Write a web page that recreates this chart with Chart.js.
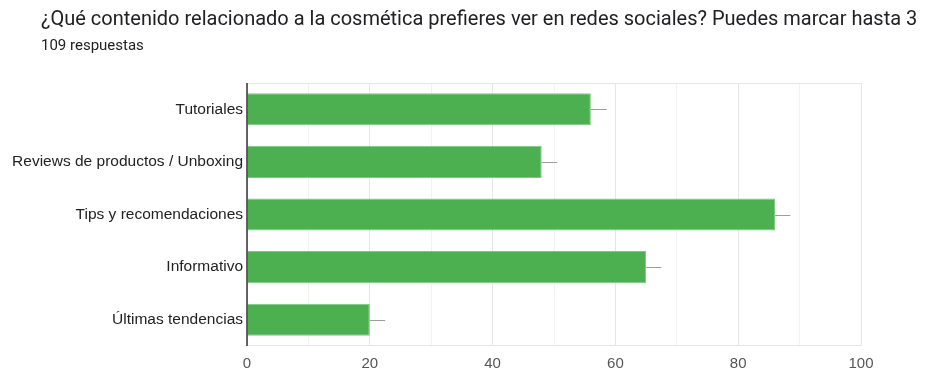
<!DOCTYPE html>
<html>
<head>
<meta charset="utf-8">
<script src="https://cdn.jsdelivr.net/npm/chart.js@4"></script>
<style>
  html, body { margin: 0; padding: 0; background: #fff; }
  #wrap { position: relative; width: 926px; height: 370px; overflow: hidden; }
  #title { position: absolute; left: 41px; top: 6px; font: 20px Roboto, sans-serif; color: #202124; white-space: nowrap; }
  #sub { position: absolute; left: 41px; top: 36px; font: 15px Roboto, sans-serif; color: #202124; white-space: nowrap; }
  canvas { position: absolute; left: 0; top: 0; }
</style>
</head>
<body>
<div id="wrap">
  <canvas id="c" width="926" height="370"></canvas>
  <div id="title">¿Qué contenido relacionado a la cosmética prefieres ver en redes sociales? Puedes marcar hasta 3</div>
  <div id="sub">109 respuestas</div>
</div>
<script>
const categories = [
  'Tutoriales',
  'Reviews de productos / Unboxing',
  'Tips y recomendaciones',
  'Informativo',
  'Últimas tendencias'
];
const counts = [56, 48, 86, 65, 20];
// upper end of the interval whisker drawn to the right of each bar
const intervalHigh = [58.6, 50.5, 88.5, 67.5, 22.5];
const xTicks = [0, 20, 40, 60, 80, 100];

const labelFont = "'Liberation Sans', Arial, sans-serif";

const whiskers = {
  id: 'whiskers',
  afterDatasetsDraw(chart) {
    const ctx = chart.ctx;
    const xs = chart.scales.x;
    const meta = chart.getDatasetMeta(0);
    ctx.save();
    ctx.strokeStyle = '#9e9e9e';
    ctx.lineWidth = 1;
    meta.data.forEach((bar, i) => {
      const y = Math.round(bar.y) + 0.5;
      ctx.beginPath();
      ctx.moveTo(xs.getPixelForValue(counts[i]), y);
      ctx.lineTo(xs.getPixelForValue(intervalHigh[i]), y);
      ctx.stroke();
    });
    ctx.restore();
  }
};

// dark baseline along the left edge of the plot area
const baseline = {
  id: 'baseline',
  afterDatasetsDraw(chart) {
    const a = chart.chartArea;
    const ctx = chart.ctx;
    ctx.save();
    ctx.strokeStyle = '#333';
    ctx.lineWidth = 1.5;
    ctx.beginPath();
    ctx.moveTo(a.left, a.top);
    ctx.lineTo(a.left, a.bottom);
    ctx.stroke();
    ctx.restore();
  }
};

new Chart(document.getElementById('c'), {
  type: 'bar',
  data: {
    labels: categories,
    datasets: [{
      data: counts,
      backgroundColor: '#4caf50',
      borderColor: '#7fc882',
      borderWidth: 1,
      borderSkipped: 'start',
      barPercentage: 0.61,
      categoryPercentage: 1
    }]
  },
  options: {
    indexAxis: 'y',
    responsive: false,
    animation: false,
    layout: { padding: { top: 83, right: 65, bottom: 0, left: 0 } },
    plugins: { legend: { display: false }, tooltip: { enabled: false } },
    scales: {
      x: {
        min: 0, max: 100,
        afterBuildTicks(scale) {
          const t = [];
          for (let v = 0; v <= 100; v += 10) t.push({ value: v });
          scale.ticks = t;
        },
        afterFit(scale) { scale.height = 24; },
        grid: {
          color: ctx => (ctx.tick && ctx.tick.value % 20 === 0) ? '#e6e6e6' : '#f2f2f2',
          drawTicks: false
        },
        border: { display: false },
        ticks: {
          padding: 9,
          color: '#555',
          font: { family: labelFont, size: 15 },
          callback: v => xTicks.includes(v) ? String(v) : ''
        }
      },
      y: {
        afterFit(scale) { scale.width = 247; },
        grid: { display: false, drawTicks: false },
        border: { display: false },
        ticks: {
          padding: 4,
          color: '#222',
          font: { family: labelFont, size: 15.5 }
        }
      }
    }
  },
  plugins: [whiskers, baseline, {
    id: 'frame',
    beforeDatasetsDraw(chart) {
      const a = chart.chartArea, ctx = chart.ctx;
      ctx.save();
      ctx.strokeStyle = '#e6e6e6';
      ctx.lineWidth = 1;
      ctx.beginPath();
      ctx.moveTo(a.left, a.top + 0.5);
      ctx.lineTo(a.right, a.top + 0.5);
      ctx.moveTo(a.left, a.bottom - 0.5);
      ctx.lineTo(a.right, a.bottom - 0.5);
      ctx.stroke();
      ctx.restore();
    }
  }]
});
</script>
</body>
</html>
